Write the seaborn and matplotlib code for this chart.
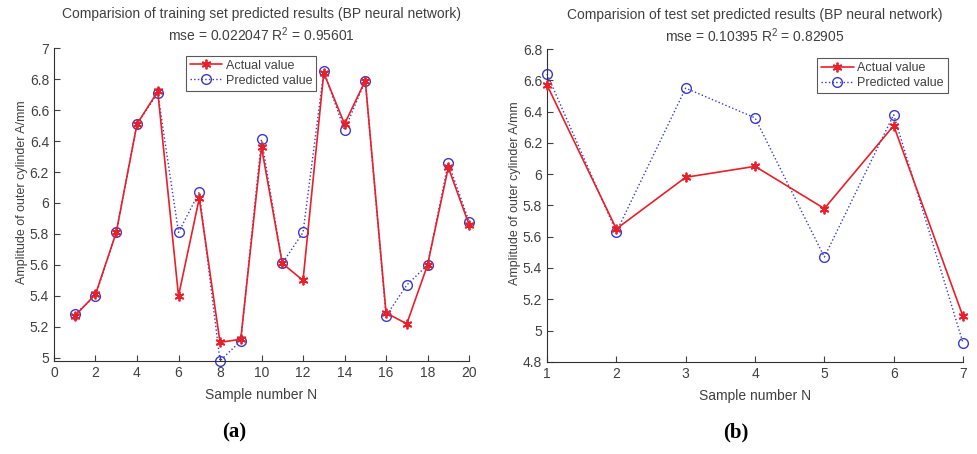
import numpy as np
import pandas as pd
import matplotlib
matplotlib.use("Agg")
import matplotlib.pyplot as plt
import seaborn as sns

# ---- data ----
train_n = list(range(1, 21))
train_actual = [5.27, 5.41, 5.81, 6.51, 6.72, 5.40, 6.03, 5.10, 5.12, 6.36,
                5.61, 5.50, 6.84, 6.51, 6.79, 5.29, 5.22, 5.60, 6.23, 5.86]
train_pred = [5.28, 5.40, 5.81, 6.51, 6.71, 5.81, 6.07, 4.98, 5.11, 6.41,
              5.61, 5.81, 6.85, 6.47, 6.79, 5.27, 5.47, 5.60, 6.26, 5.88]

test_n = list(range(1, 8))
test_actual = [6.57, 5.65, 5.98, 6.05, 5.78, 6.31, 5.09]
test_pred = [6.64, 5.63, 6.55, 6.36, 5.47, 6.38, 4.92]

titles = ["Comparision of training set predicted results (BP neural network)\nmse = 0.022047 R$^2$ = 0.95601",
          "Comparision of test set predicted results (BP neural network)\nmse = 0.10395 R$^2$ = 0.82905"]
panel_labels = ["(a)", "(b)"]
xlabel = "Sample number N"
ylabel = "Amplitude of outer cylinder A/mm"
xticks_a = list(range(0, 21, 2))
yticks_a = [5, 5.2, 5.4, 5.6, 5.8, 6, 6.2, 6.4, 6.6, 6.8, 7]
xticks_b = list(range(1, 8))
yticks_b = [4.8, 5, 5.2, 5.4, 5.6, 5.8, 6, 6.2, 6.4, 6.6, 6.8]

sns.set_style("white")
plt.rcParams['font.family'] = ['Liberation Sans', 'DejaVu Sans']
plt.rcParams['mathtext.fontset'] = 'custom'
plt.rcParams['mathtext.rm'] = 'Liberation Sans'

TXT = '#404040'
RED = '#e8202a'
BLUE = '#3a3ac8'
AST = (6, 2, 0)

fig = plt.figure(figsize=(9.78, 4.54), dpi=100)
ax1 = fig.add_axes([0.0552, 0.205, 0.4244, 0.689])
ax2 = fig.add_axes([0.5593, 0.203, 0.4254, 0.689])

def draw(ax, n, act, pred, title, xt, yt, xlim, ylim, legpos):
    df = pd.DataFrame({"N": n, "Actual": act, "Pred": pred})
    sns.lineplot(data=df, x="N", y="Actual", ax=ax, color=RED, lw=1.2,
                 marker=AST, markersize=7, markeredgecolor=RED, markerfacecolor=RED,
                 markeredgewidth=1.3, label="Actual value", clip_on=False, zorder=3)
    sns.lineplot(data=df, x="N", y="Pred", ax=ax, color=BLUE, lw=1.0, linestyle=':',
                 marker='o', markersize=7, markerfacecolor='none', markeredgecolor=BLUE,
                 markeredgewidth=1.0, label="Predicted value", clip_on=False, zorder=2)
    ax.set_xlim(*xlim)
    ax.set_ylim(*ylim)
    ax.set_xticks(xt)
    ax.set_yticks(yt)
    ax.set_xticklabels([f"{v:g}" for v in xt])
    ax.set_yticklabels([f"{v:g}" for v in yt])
    ax.tick_params(direction='in', length=4, width=0.8, colors=TXT, labelsize=10,
                   top=False, right=False, left=True, bottom=True)
    for s in ['top', 'right']:
        ax.spines[s].set_visible(False)
    for s in ['left', 'bottom']:
        ax.spines[s].set_color('#303030')
        ax.spines[s].set_linewidth(0.8)
    ax.set_xlabel(xlabel, fontsize=10, color=TXT, labelpad=6)
    ax.set_ylabel(ylabel, fontsize=9, color=TXT)
    ax.yaxis.set_label_coords(-0.062, 0.54)
    ax.set_title(title, fontsize=10, color=TXT, pad=5, linespacing=1.3)
    leg = ax.legend(loc='upper left', bbox_to_anchor=legpos, fontsize=9, frameon=True,
                    fancybox=False, edgecolor='#303030', handlelength=2.6,
                    handletextpad=0.3, borderpad=0.3, labelspacing=0.25,
                    borderaxespad=0)
    leg.get_frame().set_linewidth(0.8)
    for t in leg.get_texts():
        t.set_color(TXT)
    ax.set_facecolor('white')

draw(ax1, train_n, train_actual, train_pred, titles[0], xticks_a, yticks_a,
     (0, 20), (4.98, 7), (0.318, 0.975))
draw(ax2, test_n, test_actual, test_pred, titles[1], xticks_b, yticks_b,
     (1, 7), (4.8, 6.8), (0.65, 0.97))

fig.text(0.2395, 0.048, panel_labels[0], ha='center', va='center', fontsize=15,
         fontweight='bold', family=['Liberation Serif', 'DejaVu Serif'], color='black')
fig.text(0.752, 0.048, panel_labels[1], ha='center', va='center', fontsize=15,
         fontweight='bold', family=['Liberation Serif', 'DejaVu Serif'], color='black')

fig.savefig("out.png", dpi=100, facecolor='white')
